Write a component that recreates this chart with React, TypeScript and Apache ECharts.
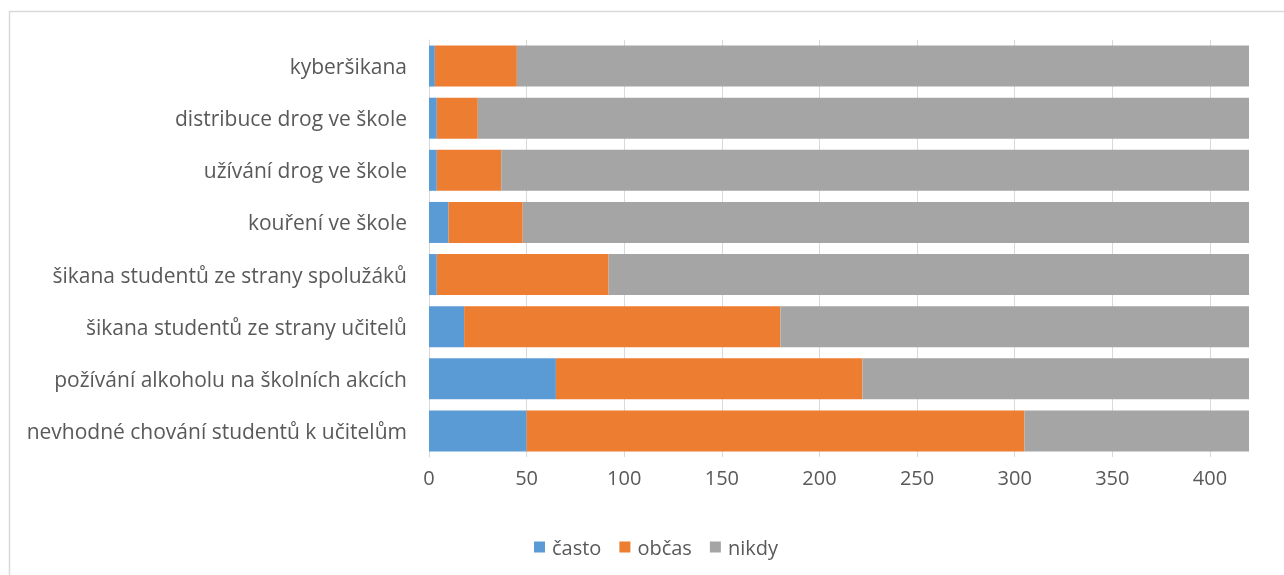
import React, { useEffect, useRef } from "react";
import * as echarts from "echarts";

const categories = [
  "kyberšikana",
  "distribuce drog ve škole",
  "užívání drog ve škole",
  "kouření ve škole",
  "šikana studentů ze strany spolužáků",
  "šikana studentů ze strany učitelů",
  "požívání alkoholu na školních akcích",
  "nevhodné chování studentů k učitelům",
];
const casto = [3, 4, 4, 10, 4, 18, 65, 50];
const obcas = [42, 21, 33, 38, 88, 162, 157, 255];
const nikdy = [375, 395, 383, 372, 328, 240, 198, 115];
const seriesNames = ["často", "občas", "nikdy"];
const colors = ["#5b9bd5", "#ed7d31", "#a5a5a5"];

const FONT = "Open Sans";

export default function App() {
  const ref = useRef<HTMLDivElement>(null);
  useEffect(() => {
    if (!ref.current) return;
    const chart = echarts.init(ref.current, undefined, { renderer: "svg" });
    const data = [casto, obcas, nikdy];
    chart.setOption({
      animation: false,
      textStyle: { fontFamily: FONT },
      graphic: [
        {
          type: "rect",
          shape: { x: 9.5, y: 11.5, width: 1300, height: 600 },
          style: { fill: "none", stroke: "#d9d9d9", lineWidth: 1.5 },
          silent: true,
        },
      ],
      grid: { left: 429, right: 35, top: 40, bottom: 118, containLabel: false },
      legend: {
        data: seriesNames,
        left: 529,
        top: 532,
        itemWidth: 11,
        itemHeight: 11,
        itemGap: 18,
        icon: "rect",
        textStyle: { color: "#595959", fontSize: 20, fontFamily: FONT, padding: [0, 0, 0, 2] },
      },
      xAxis: {
        type: "value",
        min: 0,
        max: 420,
        interval: 50,
        axisLine: { show: false },
        axisTick: { show: false },
        axisLabel: { color: "#595959", fontSize: 20, margin: 10, showMaxLabel: false, fontFamily: FONT },
        splitLine: { show: true, showMaxLine: false, lineStyle: { color: "#d9d9d9", width: 1 } },
      },
      yAxis: {
        type: "category",
        data: categories,
        inverse: true,
        axisLine: { show: true, lineStyle: { color: "#d9d9d9" } },
        axisTick: { show: false },
        axisLabel: { color: "#595959", fontSize: 21, margin: 22, fontFamily: FONT },
      },
      series: seriesNames.map((name, i) => ({
        name,
        type: "bar",
        stack: "total",
        barWidth: 41,
        data: data[i],
        itemStyle: { color: colors[i] },
      })),
    });
    return () => chart.dispose();
  }, []);
  return (
    <div
      ref={ref}
      style={{ position: "fixed", left: 0, top: 0, width: 1284, height: 575 }}
    />
  );
}
